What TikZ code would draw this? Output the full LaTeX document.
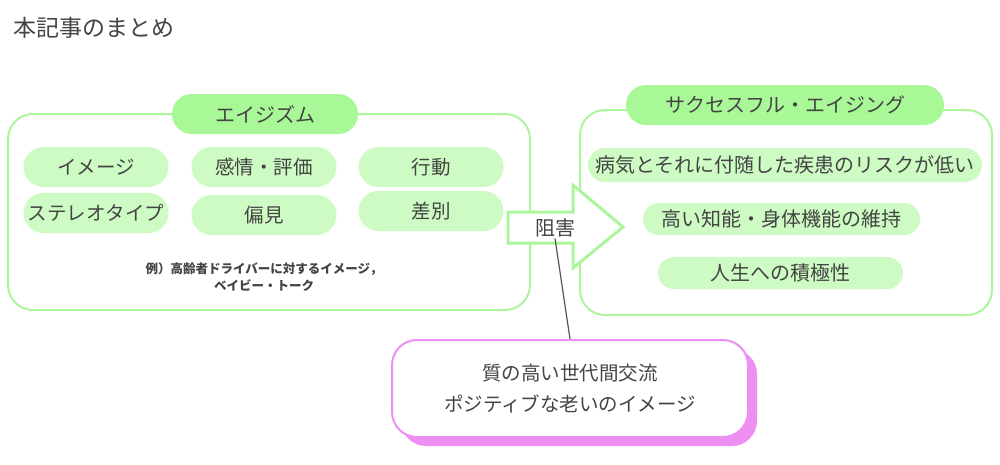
\documentclass[tikz,border=0pt]{standalone}
\usepackage{fontspec}
\setmainfont{Noto Sans CJK JP}
\usepackage{tikz}
\usetikzlibrary{positioning,calc,shadows}
\definecolor{inkdark}{HTML}{444444}
\definecolor{framegreen}{HTML}{ABF69C}
\definecolor{headgreen}{HTML}{A9F898}
\definecolor{pillgreen}{HTML}{CDFBC3}
\definecolor{pinkline}{HTML}{EC8FF1}
\definecolor{linkgrey}{HTML}{555555}
\tikzset{
  % ---- boxes ----------------------------------------------------------
  mframe/.style={
    draw=framegreen, line width=2pt, fill=white, rounded corners=25pt,
    inner sep=0pt},
  mhead/.style={
    fill=headgreen, rounded corners=20pt, minimum height=40pt,
    inner sep=0pt, text=inkdark, font=\fontsize{20}{24}\selectfont},
  mpill/.style={
    fill=pillgreen, rounded corners=17pt, minimum height=34pt,
    inner sep=0pt, text=inkdark, font=\fontsize{20}{24}\selectfont},
  mpillleft/.style={mpill, minimum width=145pt, minimum height=40pt,
    rounded corners=20pt, font=\fontsize{19.5}{24}\selectfont},
  mnote/.style={font=\fontsize{12.5}{17}\selectfont\bfseries, text=inkdark,
    align=center, inner sep=0pt},
  mresult/.style={
    draw=pinkline, line width=2pt, fill=white, rounded corners=25pt,
    inner sep=0pt, text=inkdark, align=center,
    font=\fontsize{19.5}{31}\selectfont,
    drop shadow={shadow xshift=9pt, shadow yshift=-9pt,
                 fill=pinkline, opacity=1}},
  % ---- connections ----------------------------------------------------
  mblock/.style={draw=framegreen, line width=3pt, fill=white,
    line join=miter},
  mlink/.style={draw=linkgrey, line width=1.2pt},
}
\begin{document}
\begin{tikzpicture}[x=1pt, y=-1pt]
\useasboundingbox (0,0) rectangle (1000,464);

% ---- title -----------------------------------------------------------
\node[anchor=west, inner sep=0pt, text=inkdark,
      font=\fontsize{23}{26}\selectfont] (title) at (13,28) {本記事のまとめ};

% ---- ageism frame ----------------------------------------------------
\node[mframe, minimum width=522pt, minimum height=196pt] (ageism) at (269,212) {};
\node[mhead, minimum width=186pt] (ageismhead) at (265,114) {エイジズム};

\node[mpillleft] (image)   at (96,167)  {イメージ};
\node[mpillleft] (feeling) at (264,167) {感情・評価};
\node[mpillleft] (action)  at (431,167) {行動};
\node[mpillleft] (stereo)  at (96,213)  {ステレオタイプ};
\node[mpillleft] (bias)    at (264,215) {偏見};
\node[mpillleft] (discrim) at (431,211) {差別};

\node[mnote] (example) at (264,277)
  {例）高齢者ドライバーに対するイメージ，\\ベイビー・トーク};

% ---- successful aging frame -----------------------------------------
\node[mframe, minimum width=412pt, minimum height=205pt] (success) at (786,212.5) {};
\node[mhead, minimum width=318pt] (successhead) at (785,105) {サクセスフル・エイジング};

\node[mpill, minimum width=394pt] (risk)    at (785,165) {病気とそれに付随した疾患のリスクが低い};
\node[mpill, minimum width=277pt, minimum height=32pt, rounded corners=16pt]
  (ability) at (781.5,219) {高い知能・身体機能の維持};
\node[mpill, minimum width=245pt, minimum height=32pt, rounded corners=16pt]
  (active)  at (780.5,273) {人生への積極性};

% ---- block arrow -----------------------------------------------------
\draw[mblock] (508,212) -- (573,212) -- (573,185) -- (623,227)
  -- (573,268) -- (573,243) -- (508,243) -- cycle;
\node[inner sep=1pt, text=inkdark, font=\fontsize{20}{24}\selectfont]
  (gai) at (555,228) {阻害};

% ---- intergenerational exchange ---------------------------------------
\node[mresult, minimum width=356pt, minimum height=97pt] (kouryu) at (570,388.5)
  {質の高い世代間交流\\ポジティブな老いのイメージ};

\draw[mlink] (gai.south) -- (kouryu.north);

\end{tikzpicture}
\end{document}
